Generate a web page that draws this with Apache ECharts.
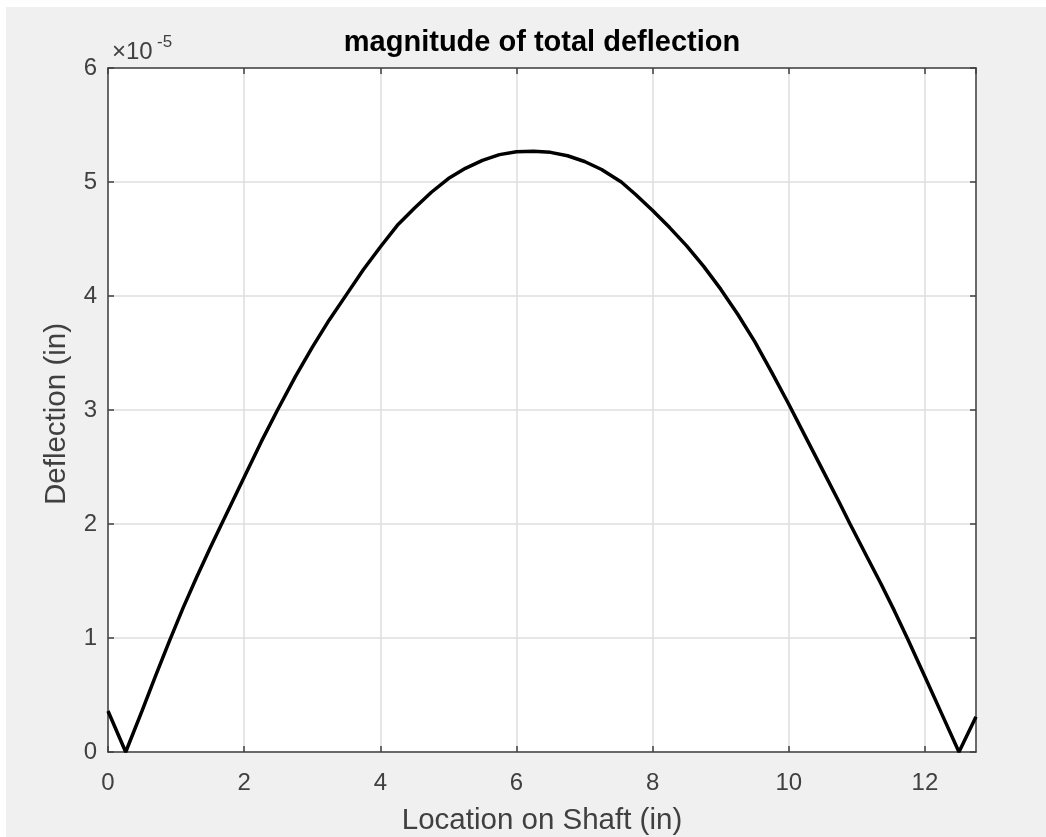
<!DOCTYPE html>
<html>
<head>
<meta charset="utf-8">
<script src="https://cdn.jsdelivr.net/npm/echarts@6/dist/echarts.min.js"></script>
<style>
  html, body { margin: 0; padding: 0; background: #ffffff; }
  #main {
    position: absolute;
    left: 6px;
    top: 7px;
    width: 1040px;
    height: 830px;
    background: #f0f0f0;
  }
</style>
</head>
<body>
<div id="main"></div>
<script>
// location along the shaft (in)
const locationIn = [0, 0.26, 0.5, 0.7, 0.9, 1.1, 1.3, 1.5, 1.66, 1.83, 2.0, 2.25, 2.49, 2.75, 3.0, 3.25,
  3.5, 3.75, 4.0, 4.25, 4.5, 4.75, 5.0, 5.25, 5.5, 5.75, 6.0, 6.25, 6.5, 6.75, 7.0, 7.25, 7.54, 7.75,
  8.0, 8.25, 8.5, 8.75, 9.0, 9.25, 9.5, 9.75, 10.0, 10.25, 10.5, 10.75, 10.9, 11.15, 11.35, 11.55,
  11.74, 12.0, 12.25, 12.5, 12.75];
// deflection magnitude, in units of 1e-5 in
const deflectionE5 = [0.36, 0, 0.36, 0.67, 0.97, 1.26, 1.53, 1.79, 1.99, 2.2, 2.41, 2.72, 3.0, 3.29, 3.55, 3.79,
  4.01, 4.23, 4.43, 4.62, 4.77, 4.91, 5.03, 5.12, 5.19, 5.24, 5.265, 5.27, 5.26, 5.23, 5.18, 5.11, 5.0, 4.89,
  4.75, 4.6, 4.44, 4.26, 4.06, 3.84, 3.6, 3.33, 3.05, 2.76, 2.47, 2.18, 2.0, 1.71, 1.48, 1.24,
  1.0, 0.66, 0.33, 0, 0.31];

const xTicks = [0, 2, 4, 6, 8, 10, 12];
const yTicks = [0, 1, 2, 3, 4, 5, 6];
const xMax = 12.75;

const axisColor = "#404040";
const font = '"Liberation Sans", Arial, sans-serif';

const chart = echarts.init(document.getElementById("main"));

const xBase = {
  type: "value",
  min: xTicks[0],
  max: xMax,
  interval: 2,
  axisLine: { show: true, onZero: false, lineStyle: { color: axisColor, width: 1.5 } },
  axisTick: { show: true, inside: true, length: 6, lineStyle: { color: axisColor, width: 1.5 } },
};
const yBase = {
  type: "value",
  min: yTicks[0],
  max: yTicks[yTicks.length - 1],
  interval: 1,
  axisLine: { show: true, onZero: false, lineStyle: { color: axisColor, width: 1.5 } },
  axisTick: { show: true, inside: true, length: 6, lineStyle: { color: axisColor, width: 1.5 } },
};

chart.setOption({
  animation: false,
  grid: { left: 102, top: 61, width: 868, height: 684, show: true, backgroundColor: "#ffffff", borderWidth: 0 },
  xAxis: [
    Object.assign({}, xBase, {
      position: "bottom",
      axisLabel: {
        margin: 19,
        color: axisColor,
        fontSize: 24,
        fontFamily: font,
        showMaxLabel: false,
        formatter: (v) => (xTicks.indexOf(v) >= 0 ? String(v) : ""),
      },
      splitLine: { show: true, lineStyle: { color: "#dedede", width: 1.5 } },
    }),
    Object.assign({}, xBase, {
      position: "top",
      axisLabel: { show: false },
      splitLine: { show: false },
    }),
  ],
  yAxis: [
    Object.assign({}, yBase, {
      position: "left",
      axisLabel: { margin: 11, color: axisColor, fontSize: 24, fontFamily: font },
      splitLine: { show: true, lineStyle: { color: "#dedede", width: 1.5 } },
    }),
    Object.assign({}, yBase, {
      position: "right",
      axisLabel: { show: false },
      splitLine: { show: false },
    }),
  ],
  series: [
    {
      type: "line",
      data: locationIn.map((x, i) => [x, deflectionE5[i]]),
      showSymbol: false,
      lineStyle: { color: "#000000", width: 3.5 },
      z: 5,
    },
  ],
  graphic: [
    {
      type: "text",
      style: {
        text: "magnitude of total deflection",
        x: 536, y: 36,
        textAlign: "center", textVerticalAlign: "middle",
        font: "bold 29px " + font, fill: "#000000",
      },
    },
    {
      type: "text",
      style: {
        text: "Location on Shaft (in)",
        x: 536, y: 814,
        textAlign: "center", textVerticalAlign: "middle",
        font: "29.5px " + font, fill: axisColor,
      },
    },
    {
      type: "text",
      x: 51, y: 407,
      rotation: Math.PI / 2,
      style: {
        text: "Deflection (in)",
        x: 0, y: 0,
        textAlign: "center", textVerticalAlign: "middle",
        font: "29.5px " + font, fill: axisColor,
      },
    },
    {
      type: "text",
      style: {
        text: "\u00d710",
        x: 106, y: 45,
        textAlign: "left", textVerticalAlign: "middle",
        font: "24px " + font, fill: axisColor,
      },
    },
    {
      type: "text",
      style: {
        text: "-5",
        x: 151, y: 35,
        textAlign: "left", textVerticalAlign: "middle",
        font: "17px " + font, fill: axisColor,
      },
    },
  ],
});
</script>
</body>
</html>
